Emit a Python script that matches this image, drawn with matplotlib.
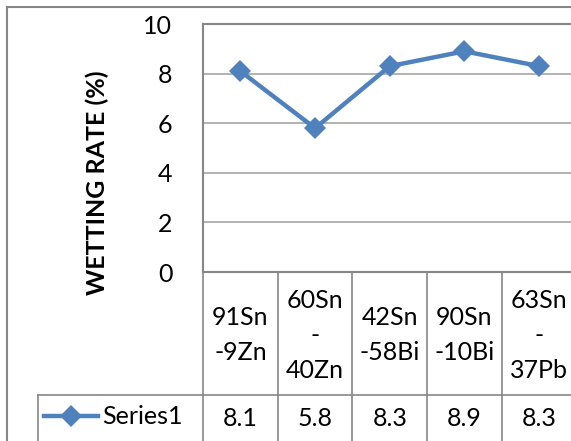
import matplotlib
matplotlib.use("Agg")
import matplotlib.pyplot as plt
from matplotlib.lines import Line2D
from matplotlib.transforms import blended_transform_factory

# Wetting rate per solder alloy
alloys = ["91Sn\n-9Zn", "60Sn\n-\n40Zn", "42Sn\n-58Bi", "90Sn\n-10Bi", "63Sn\n-\n37Pb"]
wetting_rate = [8.1, 5.8, 8.3, 8.9, 8.3]
series_name = "Series1"
y_ticks = [0, 2, 4, 6, 8, 10]

plt.rcParams["font.family"] = ["Lato", "DejaVu Sans"]

W, H = 571, 441
BLUE = "#4F81BD"
GRID = "#A6A6A6"
BORDER = "#868686"
FS = 18
LINE_STEP = 35  # px between wrapped lines in the table header


def fy(py):
    return 1 - py / H


fig = plt.figure(figsize=(W / 100, H / 100), dpi=100)

# plot area in pixel terms: left 203, top 24, bottom 272, 5 columns of ~74.7 px
col_w = 74.7
left, top, bottom = 203, 24, 272
ax = fig.add_axes([left / W, fy(bottom), 5 * col_w / W, (bottom - top) / H])

x = list(range(len(alloys)))
ax.plot(x, wetting_rate, color=BLUE, lw=3.2, marker="D", markersize=11,
        markeredgewidth=0, zorder=3)

ax.set_xlim(-0.5, len(alloys) - 0.5)
ax.set_ylim(0, 10)
ax.set_yticks(y_ticks)
ax.set_yticklabels([str(t) for t in y_ticks], fontsize=FS)
ax.tick_params(axis="y", length=0, pad=22)
ax.set_xticks([])
ax.grid(axis="y", color=GRID, lw=1.2)
for side in ["left", "top", "bottom", "right"]:
    ax.spines[side].set_color(BORDER)
    ax.spines[side].set_linewidth(1.5)

fig.text(97 / W, fy(183), "WETTING RATE (%)", rotation=90, fontsize=FS,
         fontweight="bold", ha="center", va="center")

# outer chart border
fig.add_artist(Line2D([7 / W, 7 / W], [fy(7), 0], color=BORDER, lw=1.5))
fig.add_artist(Line2D([7 / W, 1], [fy(7), fy(7)], color=BORDER, lw=1.5))

# data table below the plot area
tr = blended_transform_factory(ax.transData, fig.transFigure)
for i in range(len(alloys) + 1):
    fig.add_artist(Line2D([i - 0.5, i - 0.5], [fy(bottom), 0], color=BORDER,
                          lw=1.2, transform=tr))
fig.add_artist(Line2D([38 / W, 1], [fy(395), fy(395)], color=BORDER, lw=1.2))
fig.add_artist(Line2D([38 / W, 38 / W], [fy(395), 0], color=BORDER, lw=1.2))

for i, (name, val) in enumerate(zip(alloys, wetting_rate)):
    parts = name.split("\n")
    for k, part in enumerate(parts):
        py = 335 + (k - (len(parts) - 1) / 2) * LINE_STEP
        fig.text(i, fy(py), part, transform=tr, ha="center", va="center",
                 fontsize=FS)
    fig.text(i, fy(418), f"{val}", transform=tr, ha="center", va="center",
             fontsize=FS)

# legend key in the table
fig.add_artist(Line2D([44 / W, 98 / W], [fy(416), fy(416)], color=BLUE, lw=3.2))
fig.add_artist(Line2D([71 / W], [fy(416)], color=BLUE, marker="D",
                      markersize=11, markeredgewidth=0))
fig.text(102 / W, fy(416), series_name, ha="left", va="center", fontsize=FS)

fig.savefig("out.png", dpi=100)
